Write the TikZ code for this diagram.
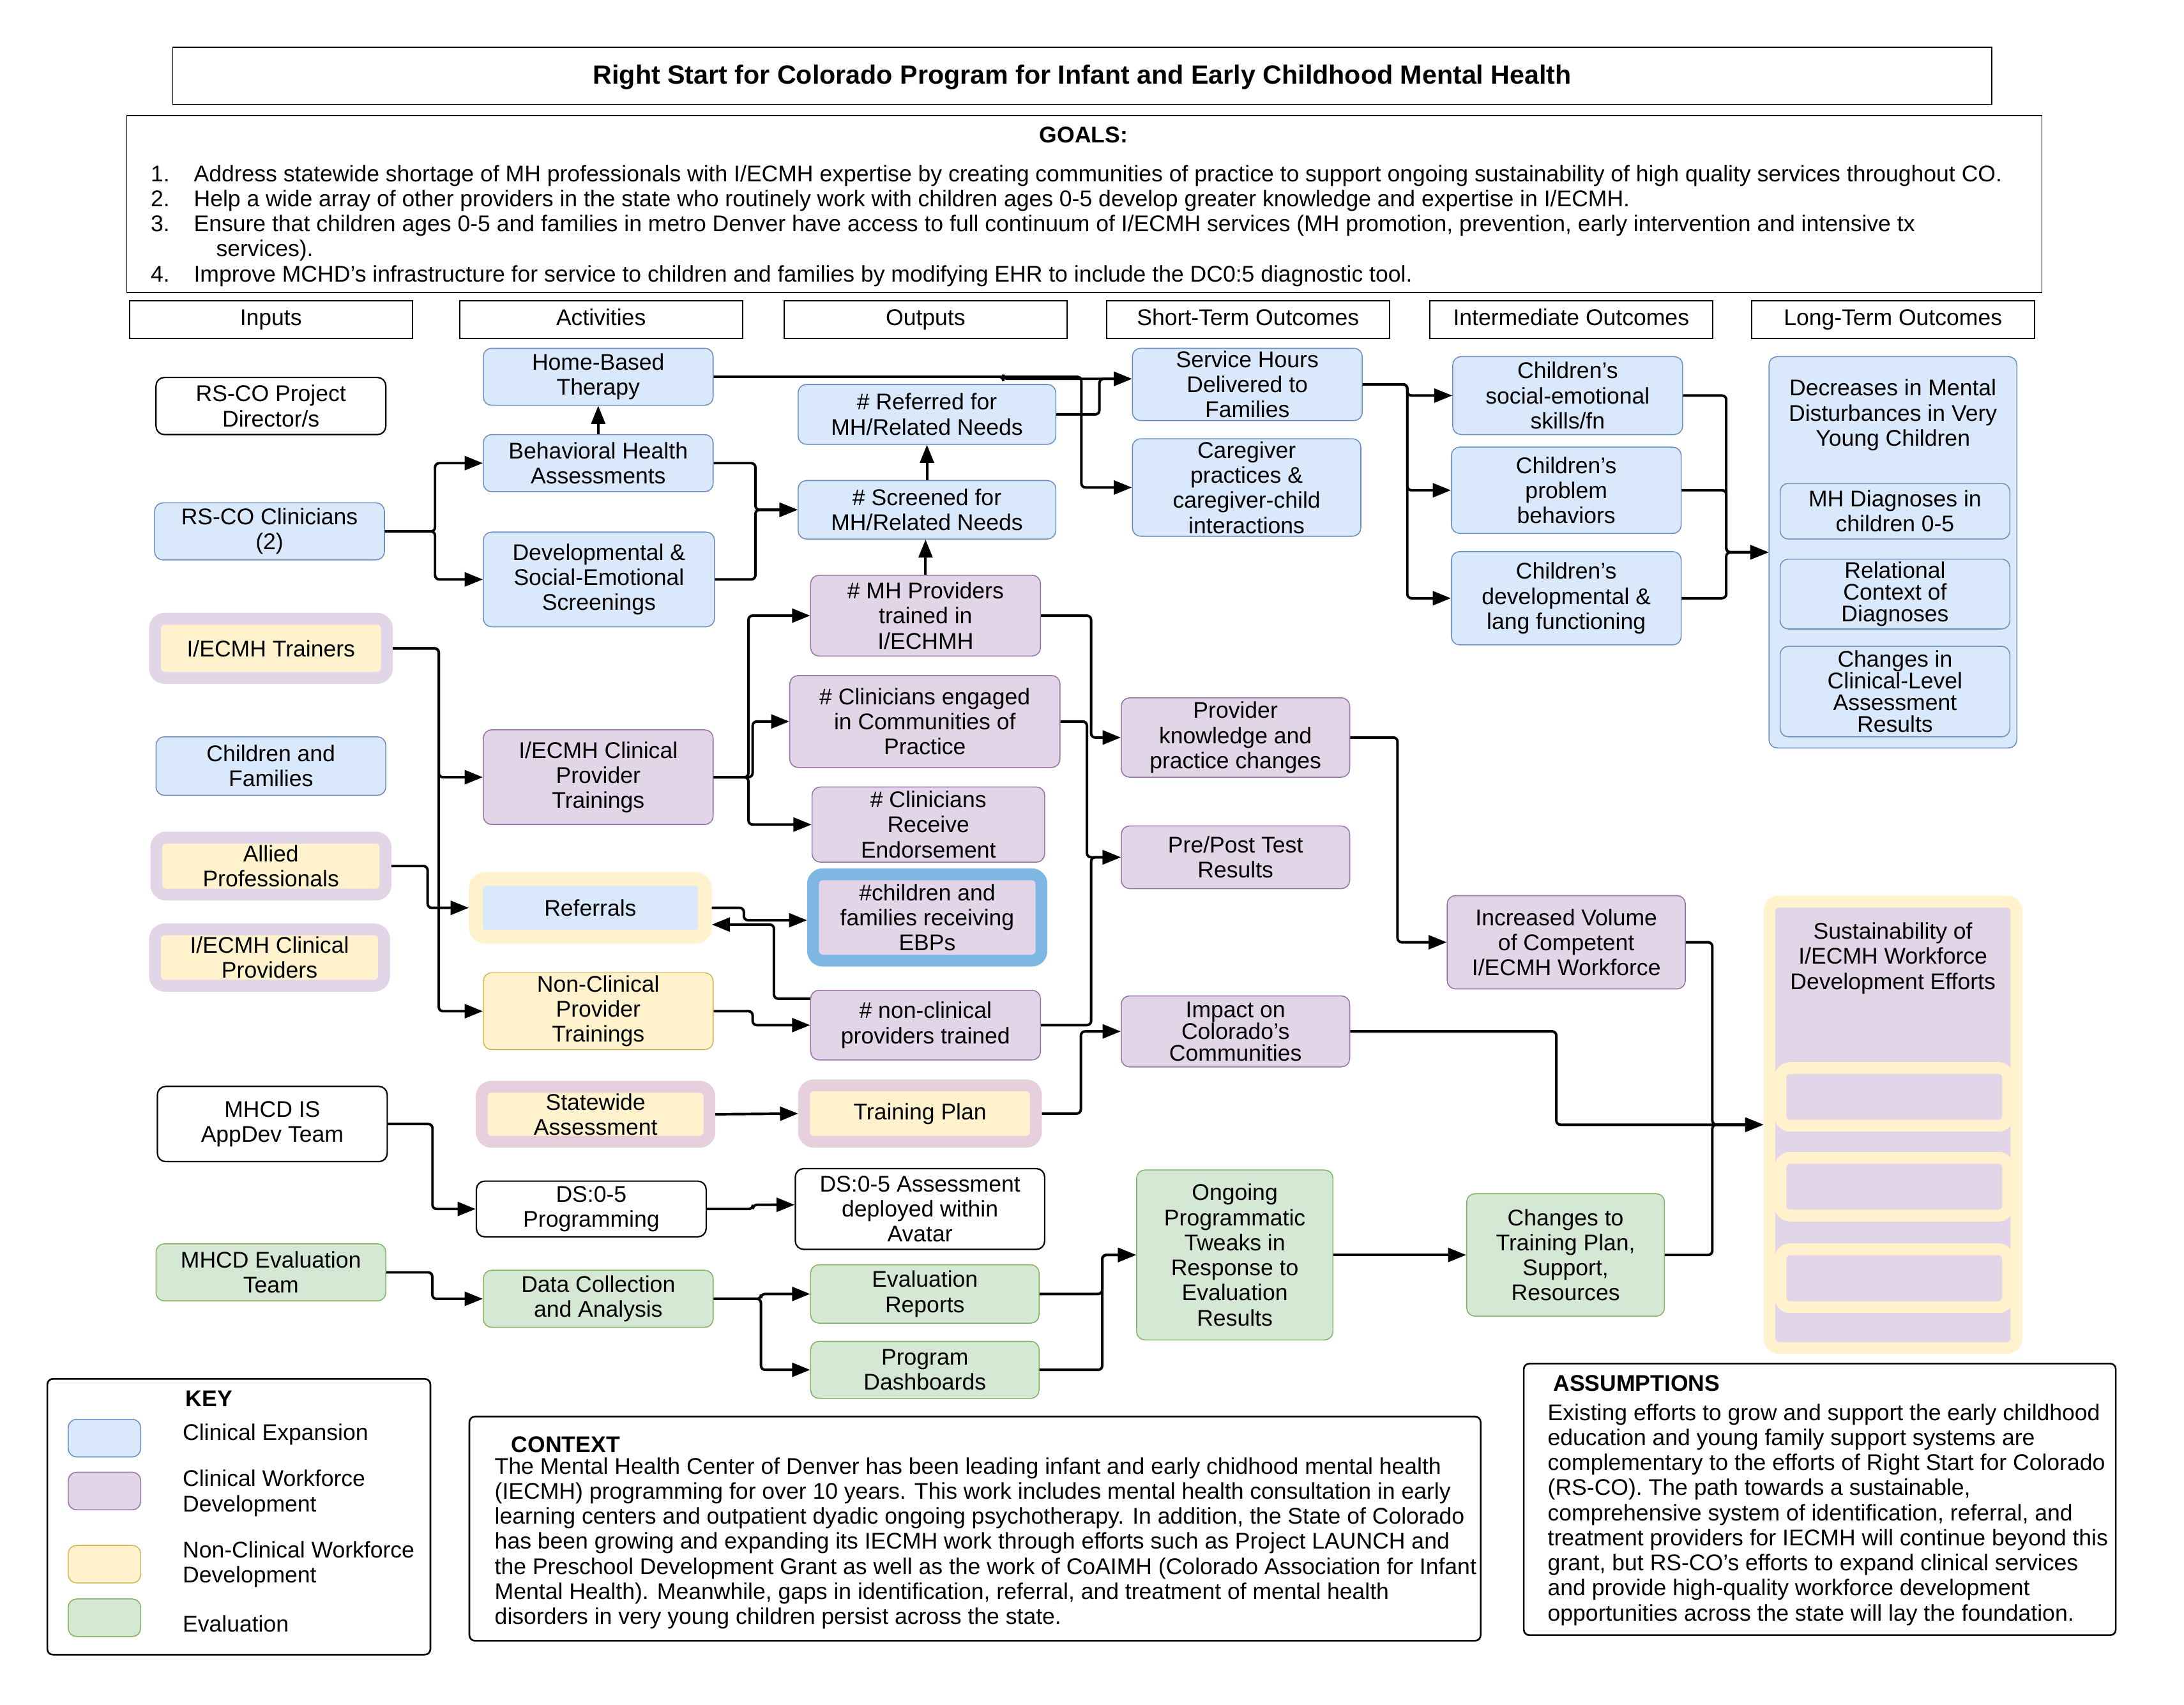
\documentclass[tikz,border=0pt]{standalone}
\usepackage{fontspec}
\setmainfont{Liberation Sans}
\usetikzlibrary{positioning,calc,arrows.meta}
\definecolor{ceblue}{RGB}{218,232,252}
\definecolor{celine}{RGB}{108,142,191}
\definecolor{cwpurp}{RGB}{225,213,231}
\definecolor{cwline}{RGB}{150,115,166}
\definecolor{ncyel}{RGB}{255,242,204}
\definecolor{ncline}{RGB}{214,182,86}
\definecolor{evgrn}{RGB}{213,232,212}
\definecolor{evline}{RGB}{130,179,102}
\definecolor{ebpring}{RGB}{126,183,226}
\definecolor{pinkring}{RGB}{230,208,222}

\begin{document}
\begin{tikzpicture}[
  x=1pt, y=-1pt,
  font=\fontsize{16.3}{18}\selectfont,
  box/.style={rounded corners=6pt, align=center, inner sep=2pt, line width=0.7pt},
  blu/.style={box, fill=ceblue, draw=celine},
  pur/.style={box, fill=cwpurp, draw=cwline},
  yel/.style={box, fill=ncyel, draw=ncline},
  grn/.style={box, fill=evgrn, draw=evline},
  wht/.style={box, fill=white, draw=black, line width=1pt},
  ring/.style={box, line width=8.5pt, rounded corners=7pt},
  head/.style={draw=black, line width=0.9pt, minimum width=203pt, minimum height=27pt, inner sep=0pt, text height=11.5pt, text depth=3.5pt},
  frame/.style={draw=black, line width=1.2pt, rounded corners=4pt, inner sep=0pt},
  tight/.style={font=\fontsize{16.3}{15.5}\selectfont},
  bold/.style={font=\fontsize{16.3}{18}\selectfont\bfseries},
  sz/.style 2 args={minimum width=#1pt, minimum height=#2pt},
  arr/.style={-{Triangle[length=13pt, width=10pt]}, line width=1.8pt, rounded corners=3pt},
]
\useasboundingbox (0,0) rectangle (1568,1224);
% ---- title and goals ----
\node[draw=black, line width=0.8pt, sz={1306}{41}] (title) at (777,54.5) {};
\node[font=\fontsize{18.9}{22}\selectfont\bfseries] (titletxt) at (777,55.5) {Right Start for Colorado Program for Infant and Early Childhood Mental Health};
\node[draw=black, line width=0.8pt, sz={1375}{127}] (goals) at (778.5,146.5) {};
\node[bold] (goalshd) at (778,97) {GOALS:};
\node[anchor=west, align=left, inner sep=0pt] (goaltxt) at (108,162) {\makebox[31pt][l]{1.}Address statewide shortage of MH professionals with I/ECMH expertise by creating communities of practice to support ongoing sustainability of high quality services throughout CO.\\
\makebox[31pt][l]{2.}Help a wide array of other providers in the state who routinely work with children ages 0-5 develop greater knowledge and expertise in I/ECMH.\\
\makebox[31pt][l]{3.}Ensure that children ages 0-5 and families in metro Denver have access to full continuum of I/ECMH services (MH promotion, prevention, early intervention and intensive tx\\
\hspace*{47pt}services).\\
\makebox[31pt][l]{4.}Improve MCHD's infrastructure for service to children and families by modifying EHR to include the DC0:5 diagnostic tool.};
% ---- column headers ----
\node[head] (hin) at (194.5,229.5) {Inputs};
\node[head] (hact) at (431.5,229.5) {Activities};
\node[head] (hout) at (664.5,229.5) {Outputs};
\node[head] (hst) at (896,229.5) {Short-Term Outcomes};
\node[head] (hint) at (1128,229.5) {Intermediate Outcomes};
\node[head] (hlt) at (1359,229.5) {Long-Term Outcomes};
% ---- inputs ----
\node[wht, sz={165}{41}] (dir) at (194.5,291.5) {RS-CO Project\\Director/s};
\node[blu, sz={165}{41}] (clin) at (193.5,381.5) {RS-CO Clinicians\\(2)};
\node[ring, fill=ncyel, draw=cwpurp, sz={166.5}{42.5}] (trainers) at (194.5,465.5) {I/ECMH Trainers};
\node[blu, sz={165}{42}] (chfam) at (194.5,550) {Children and\\Families};
\node[ring, fill=ncyel, draw=cwpurp, sz={164.5}{41}] (allied) at (194.5,621.8) {Allied\\Professionals};
\node[ring, fill=ncyel, draw=cwpurp, sz={164.5}{40.5}] (iprov) at (193.5,687.5) {I/ECMH Clinical\\Providers};
\node[wht, sz={165}{54}] (appdev) at (195.5,807) {MHCD IS\\AppDev Team};
\node[grn, sz={165}{41}] (evalteam) at (194.5,913.5) {MHCD Evaluation\\Team};
% ---- activities ----
\node[blu, sz={165}{41}] (hbt) at (429.5,270.5) {Home-Based\\Therapy};
\node[blu, sz={165}{41}] (bha) at (429.5,332.5) {Behavioral Health\\Assessments};
\node[blu, sz={166}{68}] (dev) at (430,416) {Developmental \&\\Social-Emotional\\Screenings};
\node[pur, sz={165}{68}] (cpt) at (429.5,558) {I/ECMH Clinical\\Provider\\Trainings};
\node[ring, line width=10pt, fill=ceblue, draw=ncyel, sz={164.5}{41.6}] (referrals) at (423.8,651.8) {Referrals};
\node[yel, sz={165}{50}] (ncpt) at (429.5,726) {Non-Clinical\\Provider\\Trainings};
\node[ring, fill=ncyel, draw=pinkring, sz={163.5}{39.5}] (statewide) at (427.6,800) {Statewide\\Assessment};
\node[wht, sz={165}{40}] (dsprog) at (424.5,868) {DS:0-5\\Programming};
\node[grn, sz={165}{41}] (datacoll) at (429.5,932.5) {Data Collection\\and Analysis};
% ---- outputs ----
\node[blu, sz={185}{43}] (referred) at (665.5,297.5) {\# Referred for\\MH/Related Needs};
\node[blu, sz={185}{42}] (screened) at (665.5,366) {\# Screened for\\MH/Related Needs};
\node[pur, sz={165}{58}] (mhprov) at (664.5,442) {\# MH Providers\\trained in\\I/ECHMH};
\node[pur, sz={194}{66}] (cleng) at (664,518) {\# Clinicians engaged\\in Communities of\\Practice};
\node[pur, sz={167}{54}] (endorse) at (666.5,592) {\# Clinicians\\Receive\\Endorsement};
\node[ring, fill=cwpurp, draw=ebpring, sz={164}{62}] (ebp) at (665.7,658.7) {\#children and\\families receiving\\EBPs};
\node[pur, sz={165}{50}] (nctrained) at (664.5,736) {\# non-clinical\\providers trained};
\node[ring, fill=ncyel, draw=pinkring, sz={166.5}{40.5}] (tplan) at (660.5,799.5) {Training Plan};
\node[wht, sz={179}{58}] (avatar) at (660.5,868) {DS:0-5 Assessment\\deployed within\\Avatar};
\node[grn, sz={164}{42}] (evalrep) at (664,929) {Evaluation\\Reports};
\node[grn, sz={164}{41}] (dash) at (664,983.5) {Program\\Dashboards};
% ---- short-term outcomes ----
\node[blu, sz={165}{52}] (svc) at (895.5,276) {Service Hours\\Delivered to\\Families};
\node[blu, sz={164}{70}] (careg) at (895,350) {Caregiver\\practices \&\\caregiver-child\\interactions};
\node[pur, sz={164}{57}] (provk) at (887,529.5) {Provider\\knowledge and\\practice changes};
\node[pur, sz={164}{45}] (prepost) at (887,615.5) {Pre/Post Test\\Results};
\node[pur, sz={164}{51}, tight] (impact) at (887,740.5) {Impact on\\Colorado's\\Communities};
\node[grn, sz={141}{122}] (ongoing) at (886.5,901) {Ongoing\\Programmatic\\Tweaks in\\Response to\\Evaluation\\Results};
% ---- intermediate outcomes ----
\node[blu, sz={165}{56}] (socemo) at (1125.5,284) {Children's\\social-emotional\\skills/fn};
\node[blu, sz={165}{62}] (probbeh) at (1124.5,352) {Children's\\problem\\behaviors};
\node[blu, sz={165}{67}] (devlang) at (1124.5,429.5) {Children's\\developmental \&\\lang functioning};
\node[pur, sz={171}{67}] (incvol) at (1124.5,676.5) {Increased Volume\\of Competent\\I/ECMH Workforce};
\node[grn, sz={142}{88}] (changes) at (1124,901) {Changes to\\Training Plan,\\Support,\\Resources};
% ---- long-term outcomes ----
\node[blu, sz={178}{281}] (ltblue) at (1359,396.5) {};
\node (ltdecr) at (1359,298) [align=center] {Decreases in Mental\\Disturbances in Very\\Young Children};
\node[blu, sz={165}{40}] (mhdiag) at (1360.5,367) {MH Diagnoses in\\children 0-5};
\node[blu, sz={165}{49}, tight] (relctx) at (1360.5,426.5) {Relational\\Context of\\Diagnoses};
\node[blu, sz={165}{65}, tight] (clinlvl) at (1360.5,496.5) {Changes in\\Clinical-Level\\Assessment\\Results};
\node[ring, fill=cwpurp, draw=ncyel, sz={177.5}{320.5}] (sust) at (1359,807.5) {};
\node (susttxt) at (1359,688) [align=center] {Sustainability of\\I/ECMH Workforce\\Development Efforts};
\node[ring, fill=cwpurp, draw=ncyel, sz={163.5}{41.5}] (sub1) at (1360,787.5) {};
\node[ring, fill=cwpurp, draw=ncyel, sz={163.5}{41.5}] (sub2) at (1360,852) {};
\node[ring, fill=cwpurp, draw=ncyel, sz={163.5}{41.5}] (sub3) at (1360,917.7) {};
% ---- key ----
\node[frame, sz={275}{198}] (keybox) at (171.5,1089) {};
\node[bold] (keyhd) at (150,1004) {KEY};
\node[blu, sz={52}{27}] (kblu) at (75,1032.5) {};
\node[pur, sz={52}{27}] (kpur) at (75,1070.5) {};
\node[yel, sz={52}{27}] (kyel) at (75,1123) {};
\node[grn, sz={52}{27}] (kgrn) at (75,1161.5) {};
\node[anchor=west, align=left, inner sep=0pt] (kl1) at (131,1030) {Clinical Expansion};
\node[anchor=west, align=left, inner sep=0pt] (kl2) at (131,1072) {Clinical Workforce\\Development};
\node[anchor=west, align=left, inner sep=0pt] (kl3) at (131,1123) {Non-Clinical Workforce\\Development};
\node[anchor=west, align=left, inner sep=0pt] (kl4) at (131,1166) {Evaluation};
% ---- context ----
\node[frame, sz={726}{161}] (ctxbox) at (700,1097.5) {};
\node[bold, anchor=west, inner sep=0pt] (ctxhd) at (367,1037) {CONTEXT};
\node[anchor=west, align=left, inner sep=0pt] (ctxtxt) at (355,1108) {The Mental Health Center of Denver has been leading infant and early chidhood mental health\\
(IECMH) programming for over 10 years. This work includes mental health consultation in early\\
learning centers and outpatient dyadic ongoing psychotherapy. In addition, the State of Colorado\\
has been growing and expanding its IECMH work through efforts such as Project LAUNCH and\\
the Preschool Development Grant as well as the work of CoAIMH (Colorado Association for Infant\\
Mental Health). Meanwhile, gaps in identification, referral, and treatment of mental health\\
disorders in very young children persist across the state.};
% ---- assumptions ----
\node[frame, sz={425}{195}] (asmbox) at (1306.5,1076.5) {};
\node[bold, anchor=west, inner sep=0pt] (asmhd) at (1115,993) {ASSUMPTIONS};
\node[anchor=west, align=left, inner sep=0pt] (asmtxt) at (1111,1087.5) {Existing efforts to grow and support the early childhood\\
education and young family support systems are\\
complementary to the efforts of Right Start for Colorado\\
(RS-CO). The path towards a sustainable,\\
comprehensive system of identification, referral, and\\
treatment providers for IECMH will continue beyond this\\
grant, but RS-CO's efforts to expand clinical services\\
and provide high-quality workforce development\\
opportunities across the state will lay the foundation.};
% ---- arrows ----
\draw[arr] (clin.east) -- ++(36,0) |- (bha.west);
\draw[arr] (clin.east) -- ++(36,0) |- (dev.west);
\draw[arr] (bha.north) -- (hbt.south);
\draw[arr] (bha.east) -- ++(30,0) |- (screened.west);
\draw[arr] (dev.east) -- ++(29,0) |- (screened.west);
\draw[arr] (screened.north) -- (referred.south);
\draw[arr] (mhprov.north) -- (mhprov.north |- screened.south);
\draw[arr] (hbt.east) -- ++(208,0) |- ($(svc.west)+(0,-4)$);
\draw[arr] (hbt.east) -- ++(264,0) |- (careg.west);
\draw[arr] (referred.east) -- ++(31,0) |- ($(svc.west)+(0,-4)$);
\draw[arr] (trainers.east) -- ++(33,0) |- (cpt.west);
\draw[arr] (trainers.east) -- ++(33,0) |- (ncpt.west);
\draw[arr] (allied.east) -- ++(26,0) |- (referrals.west);
\draw[arr] (cpt.east) -- ++(25,0) |- (mhprov.west);
\draw[arr] (cpt.east) -- ++(28,0) |- (cleng.west);
\draw[arr] (cpt.east) -- ++(25,0) |- (endorse.west);
\draw[arr] (referrals.east) -- ++(23,0) |- ($(ebp.west)+(0,2)$);
\draw[arr] ($(nctrained.west)+(0,-19)$) -- ++(-26,0) |- ($(referrals.east)+(0,12)$);
\draw[arr] (ncpt.east) -- ++(28,0) |- (nctrained.west);
\draw[arr] (mhprov.east) -- ++(36,0) |- (provk.west);
\draw[arr] (cleng.east) -- ++(19,0) |- (prepost.west);
\draw[arr] (nctrained.east) -- ++(36,0) |- (prepost.west);
\draw[arr] (statewide.east) -- (tplan.west);
\draw[arr] (tplan.east) -- ++(28,0) |- (impact.west);
\draw[arr] (appdev.east) -- ++(32,0) |- (dsprog.west);
\draw[arr] (dsprog.east) -- ++(33,0) |- ($(avatar.west)+(0,-3)$);
\draw[arr] (evalteam.east) -- ++(33,0) |- (datacoll.west);
\draw[arr] (datacoll.east) -- ++(34,0) |- (evalrep.west);
\draw[arr] (datacoll.east) -- ++(34,0) |- (dash.west);
\draw[arr] (evalrep.east) -- ++(45,0) |- (ongoing.west);
\draw[arr] (dash.east) -- ++(45,0) |- (ongoing.west);
\draw[arr] (ongoing.east) -- (changes.west);
\draw[arr] (svc.east) -- ++(32,0) |- (socemo.west);
\draw[arr] (svc.east) -- ++(32,0) |- (probbeh.west);
\draw[arr] (svc.east) -- ++(32,0) |- (devlang.west);
\draw[arr] (socemo.east) -- ++(31,0) |- (ltblue.west);
\draw[arr] (probbeh.east) -- ++(32,0) |- (ltblue.west);
\draw[arr] (devlang.east) -- ++(32,0) |- (ltblue.west);
\draw[arr] (provk.east) -- ++(34,0) |- (incvol.west);
\draw[arr] (incvol.east) -- ++(19,0) |- (sust.west);
\draw[arr] (impact.east) -- ++(148,0) |- (sust.west);
\draw[arr] (changes.east) -- ++(34,0) |- (sust.west);
\end{tikzpicture}
\end{document}
